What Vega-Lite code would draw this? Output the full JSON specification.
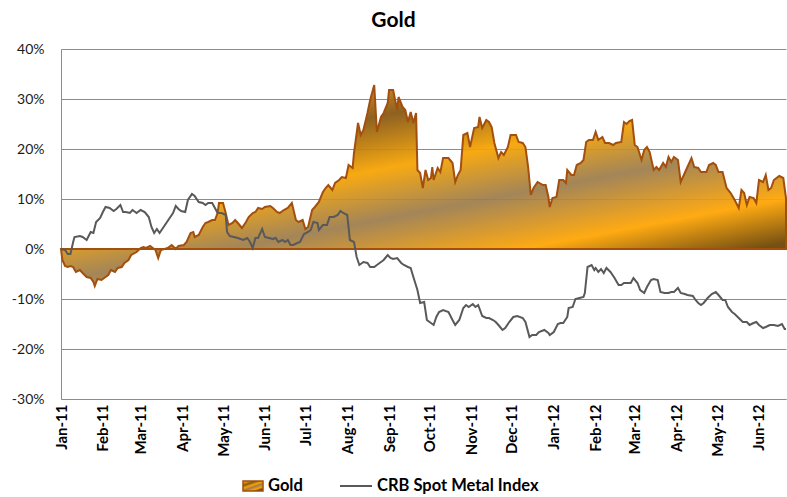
{
  "$schema": "https://vega.github.io/schema/vega-lite/v6.json",
  "width": 725,
  "height": 350,
  "autosize": {"type": "none"},
  "padding": {"left": 61, "top": 49, "right": 1, "bottom": 98},
  "background": "white",
  "title": {"text": "Gold", "font": "Lato", "fontSize": 21, "fontWeight": "bold", "color": "#000000", "anchor": "middle", "dx": -30, "offset": 11},
  "config": {"view": {"stroke": null}, "font": "Lato"},
  "resolve": {"scale": {"stroke": "independent"}, "legend": {"stroke": "independent"}},
  "datasets": {
    "gold": [
      {"date":"2011-01-01","pct":0},{"date":"2011-01-02","pct":-2.2},{"date":"2011-01-04","pct":-3.4},{"date":"2011-01-06","pct":-3.6},{"date":"2011-01-08","pct":-3.4},{"date":"2011-01-10","pct":-3.6},{"date":"2011-01-12","pct":-4.6},{"date":"2011-01-15","pct":-4.2},{"date":"2011-01-17","pct":-4.8},{"date":"2011-01-20","pct":-5.6},{"date":"2011-01-23","pct":-5.8},{"date":"2011-01-25","pct":-6.6},{"date":"2011-01-26","pct":-7.4},{"date":"2011-01-28","pct":-6.0},{"date":"2011-01-31","pct":-6.2},
      {"date":"2011-02-03","pct":-5.6},{"date":"2011-02-05","pct":-5.2},{"date":"2011-02-07","pct":-4.2},{"date":"2011-02-10","pct":-4.6},{"date":"2011-02-12","pct":-3.8},{"date":"2011-02-15","pct":-3.6},{"date":"2011-02-17","pct":-2.8},{"date":"2011-02-20","pct":-2.2},{"date":"2011-02-22","pct":-1.2},{"date":"2011-02-26","pct":-0.6},
      {"date":"2011-03-01","pct":0.2},{"date":"2011-03-03","pct":0.4},{"date":"2011-03-05","pct":0.2},{"date":"2011-03-08","pct":0.6},{"date":"2011-03-12","pct":-0.2},{"date":"2011-03-14","pct":-1.8},{"date":"2011-03-16","pct":-0.2},{"date":"2011-03-21","pct":0.2},{"date":"2011-03-24","pct":0.8},{"date":"2011-03-27","pct":0},{"date":"2011-03-29","pct":0.6},
      {"date":"2011-04-02","pct":0.8},{"date":"2011-04-04","pct":1.4},{"date":"2011-04-07","pct":3.2},{"date":"2011-04-09","pct":3.4},{"date":"2011-04-10","pct":2.4},{"date":"2011-04-13","pct":2.8},{"date":"2011-04-16","pct":4.4},{"date":"2011-04-18","pct":5.2},{"date":"2011-04-20","pct":5.4},{"date":"2011-04-23","pct":5.8},{"date":"2011-04-25","pct":5.8},{"date":"2011-04-27","pct":7.2},{"date":"2011-04-28","pct":9.2},
      {"date":"2011-05-01","pct":9.2},{"date":"2011-05-03","pct":7.2},{"date":"2011-05-05","pct":4.8},{"date":"2011-05-08","pct":5.2},{"date":"2011-05-10","pct":5.8},{"date":"2011-05-12","pct":5.2},{"date":"2011-05-15","pct":4.2},{"date":"2011-05-18","pct":5.4},{"date":"2011-05-20","pct":6.4},{"date":"2011-05-23","pct":7.2},{"date":"2011-05-25","pct":7.4},{"date":"2011-05-27","pct":8.2},{"date":"2011-05-30","pct":8.0},
      {"date":"2011-06-01","pct":8.4},{"date":"2011-06-05","pct":8.6},{"date":"2011-06-07","pct":8.2},{"date":"2011-06-10","pct":7.4},{"date":"2011-06-12","pct":7.2},{"date":"2011-06-15","pct":7.8},{"date":"2011-06-18","pct":8.2},{"date":"2011-06-21","pct":9.2},{"date":"2011-06-24","pct":5.8},{"date":"2011-06-26","pct":5.4},{"date":"2011-06-29","pct":5.8},
      {"date":"2011-07-01","pct":4.0},{"date":"2011-07-03","pct":4.4},{"date":"2011-07-06","pct":7.8},{"date":"2011-07-08","pct":8.4},{"date":"2011-07-11","pct":9.4},{"date":"2011-07-14","pct":11.4},{"date":"2011-07-16","pct":12.2},{"date":"2011-07-18","pct":12.8},{"date":"2011-07-21","pct":11.8},{"date":"2011-07-23","pct":13.2},{"date":"2011-07-26","pct":13.8},{"date":"2011-07-28","pct":14.4},{"date":"2011-07-31","pct":14.2},
      {"date":"2011-08-02","pct":16.8},{"date":"2011-08-05","pct":16.2},{"date":"2011-08-06","pct":19.2},{"date":"2011-08-09","pct":25.2},{"date":"2011-08-11","pct":22.8},{"date":"2011-08-13","pct":23.8},{"date":"2011-08-16","pct":27.2},{"date":"2011-08-18","pct":29.8},{"date":"2011-08-21","pct":32.8},{"date":"2011-08-23","pct":23.4},{"date":"2011-08-26","pct":26.4},{"date":"2011-08-28","pct":27.2},{"date":"2011-08-31","pct":29.2},
      {"date":"2011-09-01","pct":31.8},{"date":"2011-09-04","pct":31.8},{"date":"2011-09-07","pct":27.8},{"date":"2011-09-08","pct":30.4},{"date":"2011-09-11","pct":28.4},{"date":"2011-09-13","pct":27.8},{"date":"2011-09-15","pct":25.4},{"date":"2011-09-17","pct":27.4},{"date":"2011-09-19","pct":25.2},{"date":"2011-09-21","pct":27.2},{"date":"2011-09-22","pct":15.8},{"date":"2011-09-24","pct":15.2},{"date":"2011-09-26","pct":12.2},{"date":"2011-09-28","pct":15.8},{"date":"2011-09-30","pct":13.8},
      {"date":"2011-10-02","pct":14.2},{"date":"2011-10-03","pct":16.4},{"date":"2011-10-04","pct":13.8},{"date":"2011-10-07","pct":16.2},{"date":"2011-10-09","pct":15.4},{"date":"2011-10-11","pct":18.2},{"date":"2011-10-15","pct":18.2},{"date":"2011-10-18","pct":17.2},{"date":"2011-10-20","pct":13.4},{"date":"2011-10-22","pct":14.8},{"date":"2011-10-24","pct":15.8},{"date":"2011-10-26","pct":22.8},{"date":"2011-10-29","pct":23.2},{"date":"2011-10-31","pct":20.4},
      {"date":"2011-11-03","pct":24.2},{"date":"2011-11-06","pct":24.4},{"date":"2011-11-07","pct":26.4},{"date":"2011-11-09","pct":24.2},{"date":"2011-11-12","pct":25.8},{"date":"2011-11-14","pct":25.4},{"date":"2011-11-16","pct":24.4},{"date":"2011-11-18","pct":21.2},{"date":"2011-11-21","pct":18.2},{"date":"2011-11-23","pct":19.4},{"date":"2011-11-25","pct":18.8},{"date":"2011-11-28","pct":20.4},{"date":"2011-11-30","pct":22.8},
      {"date":"2011-12-04","pct":22.8},{"date":"2011-12-06","pct":21.4},{"date":"2011-12-09","pct":21.2},{"date":"2011-12-11","pct":20.4},{"date":"2011-12-13","pct":16.4},{"date":"2011-12-15","pct":10.8},{"date":"2011-12-17","pct":12.2},{"date":"2011-12-20","pct":13.4},{"date":"2011-12-24","pct":12.8},{"date":"2011-12-26","pct":12.8},{"date":"2011-12-28","pct":10.4},{"date":"2011-12-29","pct":8.4},{"date":"2011-12-31","pct":10.2},
      {"date":"2012-01-03","pct":10.4},{"date":"2012-01-05","pct":13.8},{"date":"2012-01-08","pct":13.8},{"date":"2012-01-10","pct":13.2},{"date":"2012-01-11","pct":15.8},{"date":"2012-01-14","pct":14.8},{"date":"2012-01-16","pct":14.8},{"date":"2012-01-18","pct":16.8},{"date":"2012-01-21","pct":17.2},{"date":"2012-01-23","pct":17.8},{"date":"2012-01-25","pct":21.4},{"date":"2012-01-27","pct":21.8},{"date":"2012-01-30","pct":21.8},
      {"date":"2012-02-01","pct":23.4},{"date":"2012-02-03","pct":21.8},{"date":"2012-02-06","pct":22.4},{"date":"2012-02-08","pct":21.2},{"date":"2012-02-11","pct":21.2},{"date":"2012-02-14","pct":20.8},{"date":"2012-02-16","pct":21.2},{"date":"2012-02-20","pct":21.4},{"date":"2012-02-22","pct":25.4},{"date":"2012-02-24","pct":25.0},{"date":"2012-02-26","pct":25.6},{"date":"2012-02-28","pct":25.8},
      {"date":"2012-03-01","pct":20.8},{"date":"2012-03-03","pct":20.4},{"date":"2012-03-06","pct":17.8},{"date":"2012-03-08","pct":19.8},{"date":"2012-03-10","pct":20.4},{"date":"2012-03-12","pct":19.4},{"date":"2012-03-15","pct":15.8},{"date":"2012-03-17","pct":16.4},{"date":"2012-03-19","pct":15.8},{"date":"2012-03-22","pct":17.2},{"date":"2012-03-24","pct":16.4},{"date":"2012-03-26","pct":18.4},{"date":"2012-03-28","pct":17.4},{"date":"2012-03-30","pct":18.4},
      {"date":"2012-04-02","pct":17.8},{"date":"2012-04-04","pct":13.4},{"date":"2012-04-07","pct":15.2},{"date":"2012-04-09","pct":16.4},{"date":"2012-04-12","pct":18.2},{"date":"2012-04-14","pct":16.4},{"date":"2012-04-17","pct":16.2},{"date":"2012-04-19","pct":15.4},{"date":"2012-04-23","pct":15.4},{"date":"2012-04-25","pct":16.8},{"date":"2012-04-28","pct":17.2},{"date":"2012-04-30","pct":16.8},
      {"date":"2012-05-02","pct":15.4},{"date":"2012-05-05","pct":15.4},{"date":"2012-05-08","pct":12.2},{"date":"2012-05-11","pct":11.2},{"date":"2012-05-14","pct":9.8},{"date":"2012-05-17","pct":8.2},{"date":"2012-05-19","pct":11.8},{"date":"2012-05-21","pct":11.2},{"date":"2012-05-23","pct":8.8},{"date":"2012-05-25","pct":10.4},{"date":"2012-05-28","pct":10.2},{"date":"2012-05-30","pct":9.2},
      {"date":"2012-06-01","pct":13.8},{"date":"2012-06-04","pct":13.4},{"date":"2012-06-06","pct":14.8},{"date":"2012-06-08","pct":11.8},{"date":"2012-06-10","pct":12.2},{"date":"2012-06-12","pct":13.8},{"date":"2012-06-16","pct":14.6},{"date":"2012-06-19","pct":14.2},{"date":"2012-06-21","pct":10.2}
    ],
    "crb": [
      {"date":"2011-01-01","pct":0},{"date":"2011-01-04","pct":-0.2},{"date":"2011-01-06","pct":-1.0},{"date":"2011-01-08","pct":-1.0},{"date":"2011-01-10","pct":1.4},{"date":"2011-01-11","pct":2.4},{"date":"2011-01-15","pct":2.6},{"date":"2011-01-17","pct":2.4},{"date":"2011-01-20","pct":1.8},{"date":"2011-01-23","pct":3.4},{"date":"2011-01-25","pct":3.2},{"date":"2011-01-27","pct":5.4},{"date":"2011-01-30","pct":6.2},
      {"date":"2011-02-01","pct":7.4},{"date":"2011-02-03","pct":8.4},{"date":"2011-02-06","pct":8.2},{"date":"2011-02-09","pct":7.6},{"date":"2011-02-11","pct":8.0},{"date":"2011-02-14","pct":8.8},{"date":"2011-02-16","pct":7.4},{"date":"2011-02-18","pct":7.4},{"date":"2011-02-21","pct":7.2},{"date":"2011-02-23","pct":7.8},{"date":"2011-02-26","pct":7.2},
      {"date":"2011-03-01","pct":7.8},{"date":"2011-03-04","pct":7.4},{"date":"2011-03-07","pct":6.4},{"date":"2011-03-09","pct":4.4},{"date":"2011-03-11","pct":3.2},{"date":"2011-03-13","pct":4.0},{"date":"2011-03-15","pct":3.2},{"date":"2011-03-18","pct":4.4},{"date":"2011-03-20","pct":5.2},{"date":"2011-03-23","pct":6.4},{"date":"2011-03-25","pct":7.2},{"date":"2011-03-27","pct":8.6},{"date":"2011-03-29","pct":8.0},{"date":"2011-03-31","pct":7.6},
      {"date":"2011-04-03","pct":7.4},{"date":"2011-04-05","pct":9.8},{"date":"2011-04-08","pct":11.0},{"date":"2011-04-10","pct":10.6},{"date":"2011-04-13","pct":9.4},{"date":"2011-04-16","pct":9.2},{"date":"2011-04-18","pct":8.8},{"date":"2011-04-20","pct":9.2},{"date":"2011-04-23","pct":9.2},{"date":"2011-04-25","pct":8.2},{"date":"2011-04-27","pct":7.2},{"date":"2011-04-30","pct":7.2},
      {"date":"2011-05-03","pct":6.8},{"date":"2011-05-04","pct":3.4},{"date":"2011-05-06","pct":2.6},{"date":"2011-05-09","pct":2.4},{"date":"2011-05-12","pct":2.2},{"date":"2011-05-14","pct":2.0},{"date":"2011-05-16","pct":1.8},{"date":"2011-05-19","pct":2.2},{"date":"2011-05-21","pct":1.4},{"date":"2011-05-23","pct":0.2},{"date":"2011-05-25","pct":2.2},{"date":"2011-05-27","pct":2.2},{"date":"2011-05-30","pct":4.0},
      {"date":"2011-06-01","pct":2.4},{"date":"2011-06-04","pct":2.2},{"date":"2011-06-07","pct":2.0},{"date":"2011-06-09","pct":2.2},{"date":"2011-06-11","pct":1.4},{"date":"2011-06-14","pct":1.8},{"date":"2011-06-16","pct":1.4},{"date":"2011-06-18","pct":1.8},{"date":"2011-06-20","pct":0.8},{"date":"2011-06-22","pct":0.8},{"date":"2011-06-25","pct":1.2},{"date":"2011-06-27","pct":1.4},{"date":"2011-06-30","pct":3.0},
      {"date":"2011-07-03","pct":3.4},{"date":"2011-07-05","pct":3.8},{"date":"2011-07-07","pct":5.4},{"date":"2011-07-10","pct":5.2},{"date":"2011-07-11","pct":3.8},{"date":"2011-07-14","pct":4.8},{"date":"2011-07-17","pct":4.8},{"date":"2011-07-19","pct":6.4},{"date":"2011-07-22","pct":6.4},{"date":"2011-07-25","pct":6.8},{"date":"2011-07-27","pct":7.6},{"date":"2011-07-29","pct":7.2},
      {"date":"2011-08-01","pct":6.8},{"date":"2011-08-03","pct":1.8},{"date":"2011-08-06","pct":1.4},{"date":"2011-08-08","pct":-1.6},{"date":"2011-08-10","pct":-3.2},{"date":"2011-08-13","pct":-2.6},{"date":"2011-08-16","pct":-2.8},{"date":"2011-08-18","pct":-3.6},{"date":"2011-08-21","pct":-3.6},{"date":"2011-08-23","pct":-3.2},{"date":"2011-08-26","pct":-2.6},{"date":"2011-08-28","pct":-2.2},{"date":"2011-08-31","pct":-1.2},
      {"date":"2011-09-02","pct":-1.8},{"date":"2011-09-04","pct":-2.0},{"date":"2011-09-07","pct":-1.8},{"date":"2011-09-10","pct":-2.8},{"date":"2011-09-12","pct":-3.2},{"date":"2011-09-15","pct":-3.6},{"date":"2011-09-17","pct":-3.8},{"date":"2011-09-19","pct":-5.6},{"date":"2011-09-22","pct":-8.2},{"date":"2011-09-24","pct":-10.8},{"date":"2011-09-27","pct":-10.6},{"date":"2011-09-29","pct":-14.2},
      {"date":"2011-10-01","pct":-14.6},{"date":"2011-10-04","pct":-15.2},{"date":"2011-10-06","pct":-13.6},{"date":"2011-10-08","pct":-12.6},{"date":"2011-10-11","pct":-12.2},{"date":"2011-10-15","pct":-12.6},{"date":"2011-10-18","pct":-14.2},{"date":"2011-10-20","pct":-15.2},{"date":"2011-10-23","pct":-14.2},{"date":"2011-10-26","pct":-11.8},{"date":"2011-10-28","pct":-11.2},{"date":"2011-10-30","pct":-11.6},
      {"date":"2011-11-02","pct":-11.0},{"date":"2011-11-04","pct":-11.6},{"date":"2011-11-06","pct":-11.2},{"date":"2011-11-09","pct":-13.4},{"date":"2011-11-12","pct":-13.8},{"date":"2011-11-14","pct":-13.8},{"date":"2011-11-17","pct":-14.2},{"date":"2011-11-19","pct":-14.6},{"date":"2011-11-21","pct":-15.2},{"date":"2011-11-24","pct":-16.2},{"date":"2011-11-26","pct":-15.8},{"date":"2011-11-29","pct":-14.6},
      {"date":"2011-12-02","pct":-13.6},{"date":"2011-12-05","pct":-13.4},{"date":"2011-12-09","pct":-13.8},{"date":"2011-12-11","pct":-14.6},{"date":"2011-12-14","pct":-17.6},{"date":"2011-12-16","pct":-17.2},{"date":"2011-12-19","pct":-17.2},{"date":"2011-12-21","pct":-16.6},{"date":"2011-12-25","pct":-16.2},{"date":"2011-12-28","pct":-16.8},{"date":"2011-12-29","pct":-17.2},
      {"date":"2012-01-01","pct":-16.6},{"date":"2012-01-04","pct":-15.0},{"date":"2012-01-06","pct":-14.8},{"date":"2012-01-08","pct":-14.8},{"date":"2012-01-11","pct":-13.6},{"date":"2012-01-12","pct":-11.8},{"date":"2012-01-15","pct":-11.6},{"date":"2012-01-17","pct":-10.0},{"date":"2012-01-20","pct":-9.8},{"date":"2012-01-23","pct":-9.6},{"date":"2012-01-24","pct":-8.8},{"date":"2012-01-26","pct":-3.6},{"date":"2012-01-29","pct":-3.2},{"date":"2012-01-31","pct":-4.2},
      {"date":"2012-02-01","pct":-3.8},{"date":"2012-02-03","pct":-4.6},{"date":"2012-02-05","pct":-4.0},{"date":"2012-02-07","pct":-4.8},{"date":"2012-02-09","pct":-3.8},{"date":"2012-02-12","pct":-4.6},{"date":"2012-02-15","pct":-5.8},{"date":"2012-02-18","pct":-7.2},{"date":"2012-02-20","pct":-7.2},{"date":"2012-02-22","pct":-6.8},{"date":"2012-02-25","pct":-6.8},{"date":"2012-02-27","pct":-6.8},{"date":"2012-02-29","pct":-5.8},
      {"date":"2012-03-03","pct":-6.8},{"date":"2012-03-05","pct":-8.2},{"date":"2012-03-08","pct":-8.8},{"date":"2012-03-10","pct":-7.6},{"date":"2012-03-13","pct":-6.2},{"date":"2012-03-15","pct":-6.0},{"date":"2012-03-18","pct":-6.2},{"date":"2012-03-20","pct":-8.6},{"date":"2012-03-23","pct":-8.8},{"date":"2012-03-26","pct":-8.8},{"date":"2012-03-28","pct":-8.6},{"date":"2012-03-30","pct":-8.6},
      {"date":"2012-04-02","pct":-7.8},{"date":"2012-04-04","pct":-8.8},{"date":"2012-04-07","pct":-9.0},{"date":"2012-04-09","pct":-9.2},{"date":"2012-04-13","pct":-9.4},{"date":"2012-04-15","pct":-10.2},{"date":"2012-04-17","pct":-10.8},{"date":"2012-04-19","pct":-11.2},{"date":"2012-04-21","pct":-10.8},{"date":"2012-04-24","pct":-9.8},{"date":"2012-04-27","pct":-9.0},{"date":"2012-04-30","pct":-8.6},
      {"date":"2012-05-02","pct":-9.2},{"date":"2012-05-05","pct":-10.2},{"date":"2012-05-07","pct":-10.2},{"date":"2012-05-09","pct":-11.6},{"date":"2012-05-12","pct":-12.6},{"date":"2012-05-14","pct":-13.0},{"date":"2012-05-17","pct":-13.8},{"date":"2012-05-20","pct":-14.6},{"date":"2012-05-23","pct":-14.6},{"date":"2012-05-25","pct":-15.2},{"date":"2012-05-28","pct":-14.8},{"date":"2012-05-30","pct":-14.6},
      {"date":"2012-06-01","pct":-15.2},{"date":"2012-06-04","pct":-15.8},{"date":"2012-06-06","pct":-15.6},{"date":"2012-06-09","pct":-15.2},{"date":"2012-06-12","pct":-15.2},{"date":"2012-06-15","pct":-15.4},{"date":"2012-06-18","pct":-15.0},{"date":"2012-06-20","pct":-16.0},{"date":"2012-06-21","pct":-16.0}
    ]
  },
  "encoding": {
    "x": {
      "field": "date", "type": "temporal",
      "scale": {"type": "utc", "domain": [{"year": 2011, "month": 1, "date": 1, "utc": true}, {"year": 2012, "month": 6, "date": 21, "utc": true}]},
      "axis": {
        "title": null,
        "labelExpr": "utcFormat(datum.value, '%b-%y')",
        "values": [
          {"year":2011,"month":1,"date":1,"utc":true},{"year":2011,"month":2,"date":1,"utc":true},{"year":2011,"month":3,"date":1,"utc":true},{"year":2011,"month":4,"date":1,"utc":true},{"year":2011,"month":5,"date":1,"utc":true},{"year":2011,"month":6,"date":1,"utc":true},{"year":2011,"month":7,"date":1,"utc":true},{"year":2011,"month":8,"date":1,"utc":true},{"year":2011,"month":9,"date":1,"utc":true},{"year":2011,"month":10,"date":1,"utc":true},{"year":2011,"month":11,"date":1,"utc":true},{"year":2011,"month":12,"date":1,"utc":true},
          {"year":2012,"month":1,"date":1,"utc":true},{"year":2012,"month":2,"date":1,"utc":true},{"year":2012,"month":3,"date":1,"utc":true},{"year":2012,"month":4,"date":1,"utc":true},{"year":2012,"month":5,"date":1,"utc":true},{"year":2012,"month":6,"date":1,"utc":true}
        ],
        "labelAngle": -90, "labelAlign": "right", "labelBaseline": "middle",
        "labelFont": "Lato", "labelFontSize": 15, "labelFontWeight": "bold", "labelColor": "#000000",
        "labelPadding": 5, "labelOverlap": false, "labelFlush": false,
        "ticks": false, "grid": false, "domainColor": "#8c8c8c", "domainWidth": 1
      }
    },
    "y": {
      "field": "pct", "type": "quantitative",
      "scale": {"domain": [-30, 40], "nice": false},
      "axis": {
        "title": null, "values": [-30, -20, -10, 0, 10, 20, 30, 40],
        "labelExpr": "datum.value + '%'",
        "labelFont": "Lato", "labelFontSize": 14, "labelColor": "#1a1a1a", "labelPadding": 17,
        "ticks": false, "grid": true, "gridColor": "#8c8c8c", "gridWidth": 1,
        "domainColor": "#8c8c8c", "domainWidth": 1
      }
    }
  },
  "layer": [
    {
      "data": {"name": "gold"},
      "mark": {
        "type": "area", "strokeWidth": 2, "fillOpacity": 0.93,
        "fill": {
          "gradient": "linear", "x1": 0, "y1": 0, "x2": 0.69, "y2": 1,
          "stops": [
            {"offset": 0, "color": "#eea52a"},
            {"offset": 0.17, "color": "#d98f14"},
            {"offset": 0.31, "color": "#855510"},
            {"offset": 0.49, "color": "#f7a300"},
            {"offset": 0.66, "color": "#9c7c4c"},
            {"offset": 0.85, "color": "#ffa400"},
            {"offset": 1, "color": "#6b4300"}
          ]
        }
      },
      "encoding": {
        "stroke": {
          "datum": "Gold", "type": "nominal",
          "scale": {"domain": ["Gold"], "range": ["#a34f0e"]},
          "legend": {
            "title": null, "orient": "none", "legendX": 181, "legendY": 426, "direction": "horizontal",
            "labelFont": "Lato", "labelFontSize": 16.5, "labelFontWeight": "bold", "labelColor": "#000000", "labelLimit": 400,
            "symbolType": "M-1,-0.5H1V0.5H-1Z", "symbolSize": 400, "symbolStrokeWidth": 1.5, "symbolOpacity": 1, "labelOffset": 4
          }
        }
      }
    },
    {
      "data": {"name": "crb"},
      "mark": {"type": "line", "strokeWidth": 2},
      "encoding": {
        "stroke": {
          "datum": "CRB Spot Metal Index", "type": "nominal",
          "scale": {"domain": ["CRB Spot Metal Index"], "range": ["#595959"]},
          "legend": {
            "title": null, "orient": "none", "legendX": 278, "legendY": 420, "direction": "horizontal",
            "labelFont": "Lato", "labelFontSize": 16.5, "labelFontWeight": "bold", "labelColor": "#000000", "labelLimit": 400,
            "symbolType": "stroke", "symbolSize": 1024, "symbolStrokeWidth": 2, "labelOffset": 4
          }
        }
      }
    }
  ]
}
